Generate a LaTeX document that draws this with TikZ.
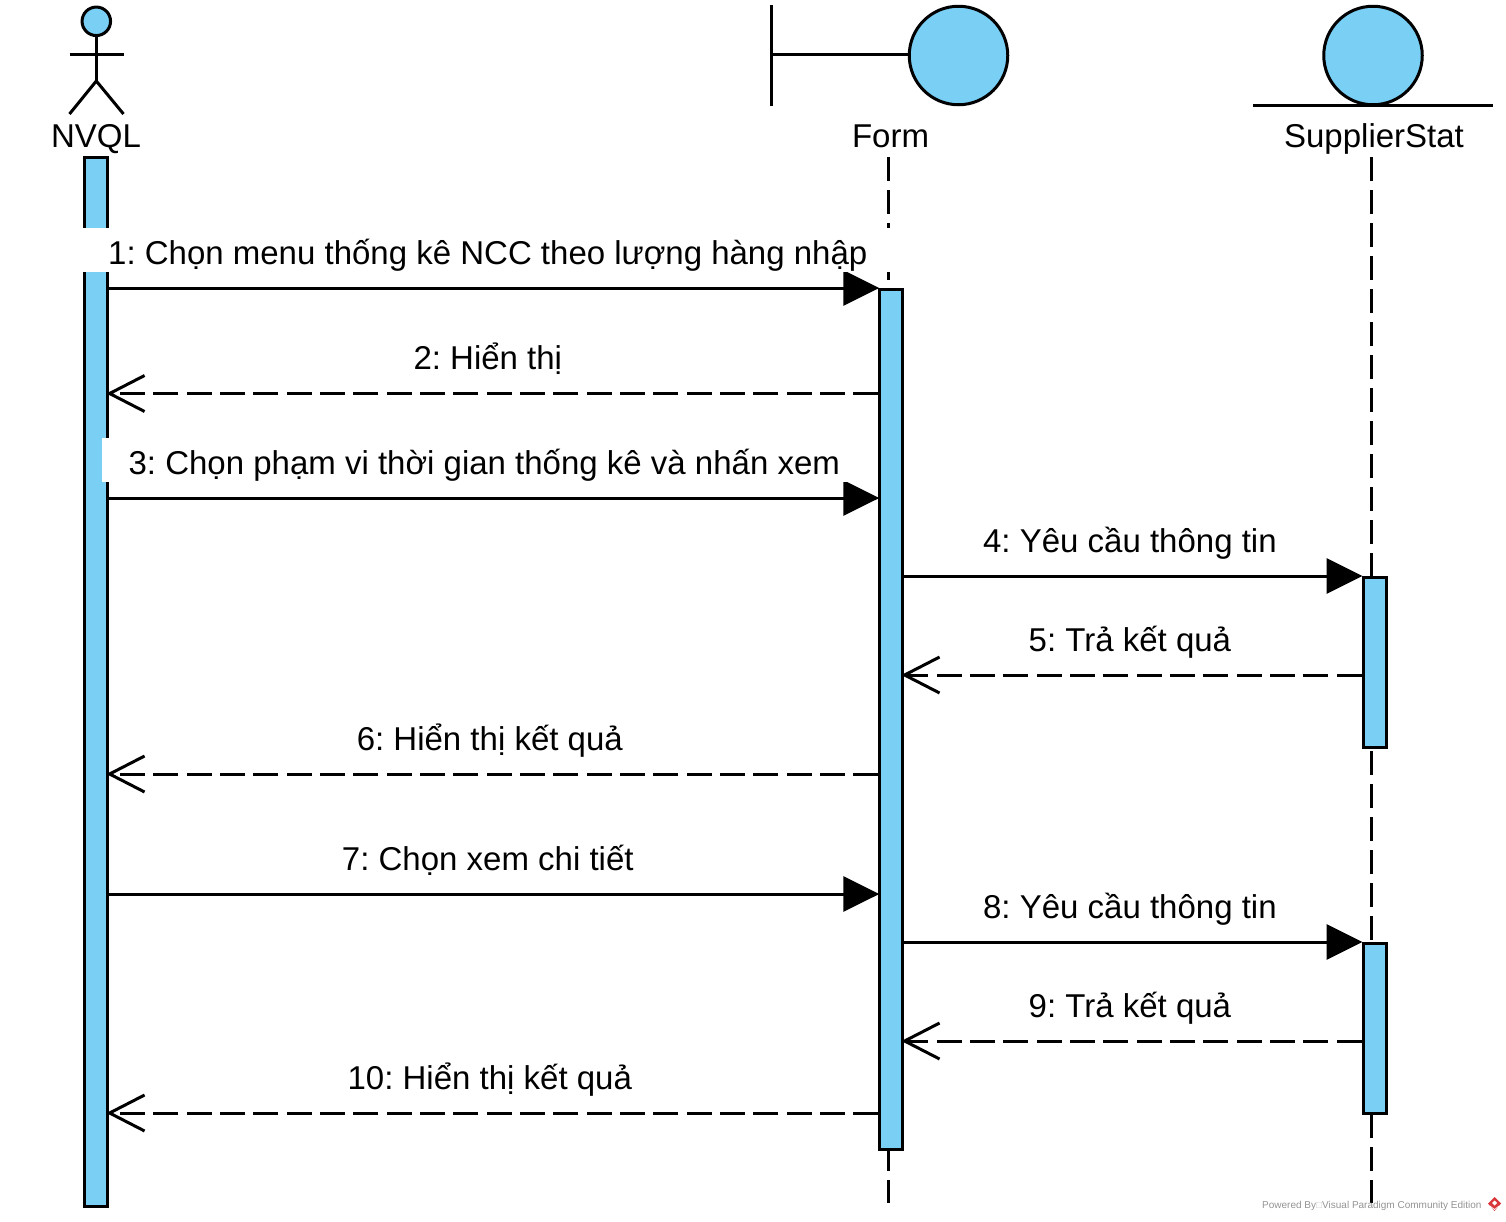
\documentclass[tikz,border=0pt]{standalone}
\usepackage{fontspec}
\setmainfont{Liberation Sans}
\usetikzlibrary{arrows.meta, positioning}
\definecolor{lifeblue}{HTML}{7ACFF5}
\definecolor{logored}{HTML}{D9363A}
\frenchspacing
\tikzset{x=1pt, y=-1pt,
	activation/.style={draw, fill=lifeblue, rectangle, inner sep=0pt, minimum width=23pt},
	lifeline/.style={dash pattern=on 24pt off 9pt},
	call/.style={-{Triangle[length=36pt, width=35pt]}, shorten >=-1pt},
	reply/.style={-{Straight Barb[length=35pt, width=36pt]}, shorten >=-3pt, dash pattern=on 25pt off 8.33pt},
	msg text/.style={anchor=base, fill=white, inner xsep=27pt, inner ysep=0pt, text height=36pt, text depth=8pt, font=\fontsize{33}{39}\selectfont},
	head text/.style={anchor=base, inner sep=0pt, font=\fontsize{33}{39}\selectfont}}

\begin{document}
\begin{tikzpicture}[line width=3pt]
	\useasboundingbox (0,0) rectangle (1506,1221);
	% lifelines
	\coordinate (Form Top) at (888,157);
	\coordinate (Form End) at (888,1203);
	\coordinate (Stat Top) at (1371.5,157);
	\coordinate (Stat End) at (1371.5,1203);
	\draw[lifeline] (Form Top) -- (Form End);
	\draw[lifeline] (Stat Top) -- (Stat End);
	% actor
	\node[draw, fill=lifeblue, circle, inner sep=0pt, minimum size=28.5pt] at (96.3,21.3) (NVQL Head) {};
	\coordinate (Hip) at (96.3,81);
	\coordinate (Arm L) at (69.5,54);
	\coordinate (Arm R) at (123.5,54);
	\coordinate (Foot L) at (69.5,114);
	\coordinate (Foot R) at (123.5,114);
	\draw (NVQL Head) -- (Hip);
	\draw (Arm L) -- (Arm R);
	\draw (Foot L) -- (Hip) -- (Foot R);
	\node[head text] at (96,147) (NVQL) {NVQL};
	% boundary
	\node[draw, fill=lifeblue, circle, inner sep=0pt, minimum size=98.5pt] at (958.5,55.5) (Form Circle) {};
	\coordinate (Bound Top) at (771.5,5);
	\coordinate (Bound Low) at (771.5,106);
	\coordinate (Bound Mid) at (771.5,54);
	\draw (Bound Top) -- (Bound Low);
	\draw (Bound Mid) -- (Form Circle.west |- Bound Mid);
	\node[head text] at (890.5,147) (Form) {Form};
	% entity
	\node[draw, fill=lifeblue, circle, inner sep=0pt, minimum size=98.5pt] at (1373,55.5) (Stat Circle) {};
	\coordinate (Base L) at (1253,105);
	\coordinate (Base R) at (1493,105);
	\draw (Base L) -- (Base R);
	\node[head text] at (1374,147) (Stat) {SupplierStat};
	% activations
	\node[activation, minimum height=1049pt] at (96.3,681.5) (NVQL Bar) {};
	\node[activation, minimum height=860pt] at (891.3,719) (Form Bar) {};
	\node[activation, minimum height=170pt] at (1374.5,662) (Stat Bar A) {};
	\node[activation, minimum height=170pt] at (1374.5,1028) (Stat Bar B) {};
	% messages
	\draw
		(NVQL Bar.east |- 0,288) edge[call] node[msg text, xshift=-6, yshift=24]{1: Chọn menu thống kê NCC theo lượng hàng nhập} (Form Bar.west |- 0,288)
		(Form Bar.west |- 0,393.5) edge[reply] node[msg text, xshift=-6, yshift=24]{2: Hiển thị} (NVQL Bar.east |- 0,393.5)
		(NVQL Bar.east |- 0,498) edge[call] node[msg text, xshift=-9.5, yshift=24]{3: Chọn phạm vi thời gian thống kê và nhấn xem} (Form Bar.west |- 0,498)
		(Form Bar.east |- 0,576) edge[call] node[msg text, xshift=-3, yshift=24]{4: Yêu cầu thông tin} (Stat Bar A.west |- 0,576)
		(Stat Bar A.west |- 0,675) edge[reply] node[msg text, xshift=-3, yshift=24]{5: Trả kết quả} (Form Bar.east |- 0,675)
		(Form Bar.west |- 0,774) edge[reply] node[msg text, xshift=-4, yshift=24]{6: Hiển thị kết quả} (NVQL Bar.east |- 0,774)
		(NVQL Bar.east |- 0,894) edge[call] node[msg text, xshift=-6, yshift=24]{7: Chọn xem chi tiết} (Form Bar.west |- 0,894)
		(Form Bar.east |- 0,942) edge[call] node[msg text, xshift=-3, yshift=24]{8: Yêu cầu thông tin} (Stat Bar B.west |- 0,942)
		(Stat Bar B.west |- 0,1041) edge[reply] node[msg text, xshift=-3, yshift=24]{9: Trả kết quả} (Form Bar.east |- 0,1041)
		(Form Bar.west |- 0,1113) edge[reply] node[msg text, xshift=-4, yshift=24]{10: Hiển thị kết quả} (NVQL Bar.east |- 0,1113);
	% footer
	\node[anchor=base east, inner sep=0pt, text=gray!85, font=\fontsize{10}{12}\selectfont] at (1483,1208) (Powered) {Powered By\textcolor{gray!40}{□}Visual Paradigm Community Edition};
	\fill[logored] (1494.5,1197) -- (1501,1203.5) -- (1494.5,1211) -- (1488,1203.5) -- cycle;
	\draw[white, line width=0.7pt] (1490,1206) -- (1494.5,1209.5) -- (1499,1206);
	\fill[white] (1494.5,1200.5) -- (1497,1203) -- (1494.5,1205.5) -- (1492,1203) -- cycle;
\end{tikzpicture}
\end{document}
